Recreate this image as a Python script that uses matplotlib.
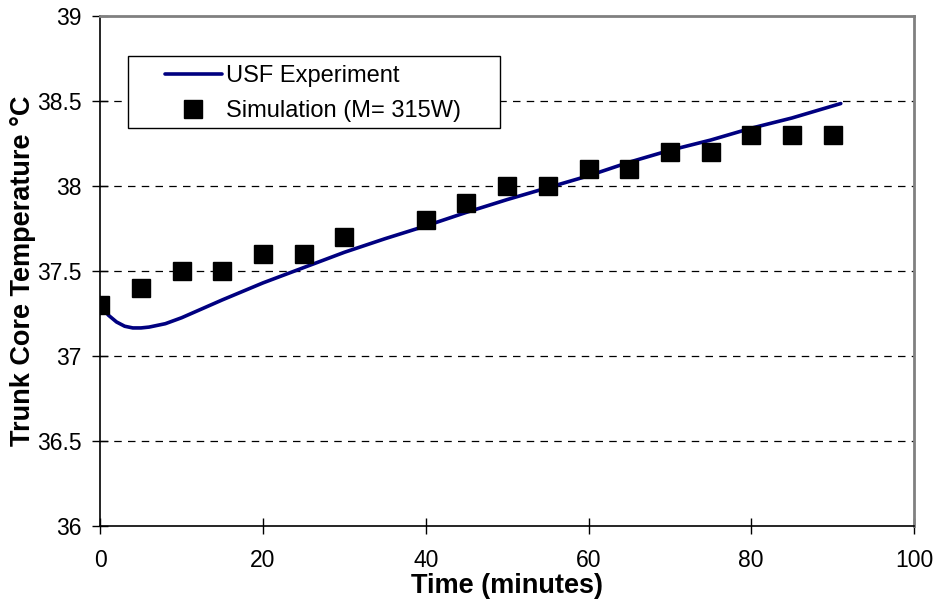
import matplotlib
matplotlib.use("Agg")
import matplotlib.pyplot as plt
from matplotlib.patches import Rectangle

plt.rcParams["font.family"] = ["Liberation Sans", "DejaVu Sans"]

# measured trunk core temperature (USF experiment)
exp_time = [0, 1, 2, 3, 4, 5, 6, 8, 10, 15, 20, 25, 30, 35, 40, 45,
            50, 55, 60, 65, 70, 75, 80, 85, 91]
exp_temp = [37.30, 37.24, 37.20, 37.175, 37.165, 37.165, 37.17, 37.19, 37.225,
            37.33, 37.43, 37.52, 37.61, 37.69, 37.765, 37.845, 37.92, 37.99,
            38.06, 38.14, 38.21, 38.27, 38.34, 38.40, 38.485]

# simulation results, M = 315 W
sim_time = [0, 5, 10, 15, 20, 25, 30, 40, 45, 50, 55, 60, 65, 70, 75, 80, 85, 90]
sim_temp = [37.3, 37.4, 37.5, 37.5, 37.6, 37.6, 37.7, 37.8, 37.9, 38.0, 38.0,
            38.1, 38.1, 38.2, 38.2, 38.3, 38.3, 38.3]

x_ticks = [0, 20, 40, 60, 80, 100]
y_ticks = [36, 36.5, 37, 37.5, 38, 38.5, 39]
y_tick_labels = ["36", "36.5", "37", "37.5", "38", "38.5", "39"]

fig = plt.figure(figsize=(9.38, 6.08), dpi=100)
ax = fig.add_axes([0.1069, 0.1349, 0.8675, 0.8388])

ax.plot(exp_time, exp_temp, color="#000080", lw=2.6, label="USF Experiment",
        solid_capstyle="round", zorder=3)
ax.plot(sim_time, sim_temp, ls="none", marker="s", ms=13, color="black",
        label="Simulation (M= 315W)", zorder=4)

ax.set_xlim(0, 100)
ax.set_ylim(36, 39)
ax.set_xticks(x_ticks)
ax.set_yticks(y_ticks)
ax.set_yticklabels(y_tick_labels)
ax.tick_params(direction="inout", length=11, width=1, labelsize=16.5)
ax.tick_params(axis="x", pad=11)
ax.tick_params(axis="y", pad=8)

for yv in y_ticks[1:-1]:
    ax.axhline(yv, color="black", lw=0.9, ls=(0, (6, 5)), zorder=1)

for side in ("left", "bottom"):
    ax.spines[side].set_color("black")
    ax.spines[side].set_linewidth(1.2)
for side in ("top", "right"):
    ax.spines[side].set_color("#808080")
    ax.spines[side].set_linewidth(2)

ax.set_xlabel("Time (minutes)", fontsize=19.5, fontweight="bold", labelpad=1)
ax.set_ylabel("Trunk Core Temperature \u00b0C", fontsize=19.5, fontweight="bold",
              labelpad=1)

# legend box, drawn separately so the entries can sit with a wide left margin
frame = Rectangle((0.034, 0.78), 0.457, 0.1415, transform=ax.transAxes,
                  facecolor="white", edgecolor="black", lw=1, zorder=5)
ax.add_patch(frame)
leg = ax.legend(loc="upper left", bbox_to_anchor=(0.0795, 0.903), fontsize=17,
                frameon=False, handlelength=2.4, borderpad=0,
                labelspacing=0.55, handletextpad=0.17, borderaxespad=0)
leg.set_zorder(6)

fig.savefig("out.png", dpi=100)
